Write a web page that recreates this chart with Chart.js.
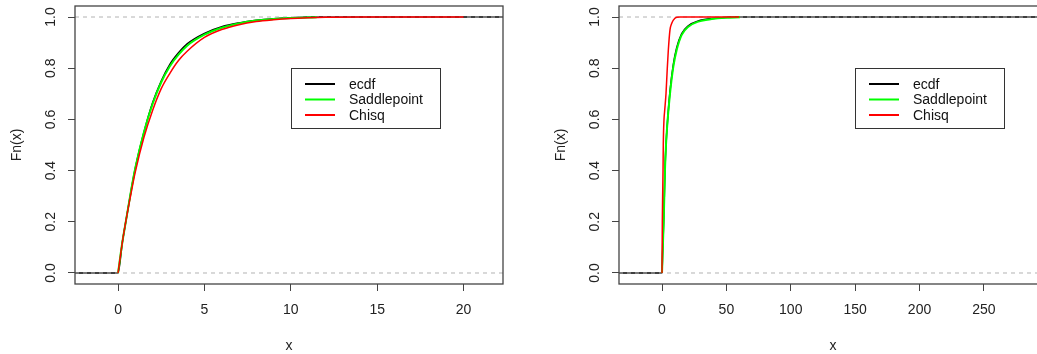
<!DOCTYPE html>
<html>
<head>
<meta charset="utf-8">
<script src="https://cdn.jsdelivr.net/npm/chart.js@4/dist/chart.umd.min.js"></script>
<style>
  html, body { margin: 0; padding: 0; background: #fff; overflow: hidden; width: 1037px; height: 354px; }
  #wrapLeft { position: absolute; left: 0; top: 0; width: 520px; height: 354px; }
  #wrapRight { position: absolute; left: 520px; top: 0; width: 540px; height: 354px; }
</style>
</head>
<body>
<div id="wrapLeft"><canvas id="chartLeft" width="520" height="354"></canvas></div>
<div id="wrapRight"><canvas id="chartRight" width="540" height="354"></canvas></div>
<script>
// Tick labels
const yTicks = [0, 0.2, 0.4, 0.6, 0.8, 1.0];
const leftTicksX = [0, 5, 10, 15, 20];
const rightTicksX = [0, 50, 100, 150, 200, 250];

// Left panel: ecdf, saddlepoint and chisq curves
const leftEcdfX = [-2.49, 0, 0.25, 0.5, 0.75, 1, 1.5, 2, 2.5, 3, 3.5, 4, 5, 6, 7, 8, 9, 10, 11, 22.28];
const leftEcdfY = [0, 0, 0.12, 0.22, 0.32, 0.41, 0.55, 0.665, 0.75, 0.815, 0.86, 0.895, 0.936, 0.962, 0.977, 0.987, 0.993, 0.997, 1, 1];
const leftSaddleX = [0, 0.25, 0.5, 0.75, 1, 1.5, 2, 2.5, 3, 3.5, 4, 5, 6, 7, 8, 9, 10, 11, 11.5];
const leftSaddleY = [0, 0.12, 0.22, 0.32, 0.41, 0.55, 0.66, 0.745, 0.808, 0.853, 0.888, 0.931, 0.958, 0.975, 0.986, 0.992, 0.996, 0.998, 0.999];
const leftChisqX = [0, 0.25, 0.5, 0.75, 1, 1.5, 2, 2.5, 3, 3.5, 4, 5, 6, 7, 8, 9, 10, 11, 12, 14, 20];
const leftChisqY = [0, 0.12, 0.22, 0.31, 0.395, 0.53, 0.635, 0.72, 0.78, 0.83, 0.866, 0.92, 0.951, 0.97, 0.982, 0.989, 0.994, 0.997, 0.999, 1, 1];

// Right panel
const rightEcdfX = [-33.4, 0, 0.5, 1.3, 2.3, 3.1, 4.4, 6.2, 8.8, 11.4, 15.3, 20.4, 28.2, 38.6, 48.9, 55, 299];
const rightEcdfY = [0, 0, 0.08, 0.2, 0.4, 0.5, 0.6, 0.71, 0.815, 0.88, 0.935, 0.966, 0.985, 0.994, 0.998, 1, 1];
const rightSaddleX = [0, 0.5, 1.3, 2.3, 3.1, 4.4, 6.2, 8.8, 11.4, 15.3, 20.4, 28.2, 38.6, 48.9, 60.6];
const rightSaddleY = [0, 0.08, 0.2, 0.4, 0.5, 0.6, 0.7, 0.806, 0.871, 0.93, 0.962, 0.982, 0.992, 0.997, 0.999];
const rightChisqX = [0, 0.25, 0.5, 0.8, 1, 1.55, 2, 3.1, 4, 4.9, 6.2, 7.5, 8.8, 11.4, 14, 60];
const rightChisqY = [0, 0.2, 0.3, 0.4, 0.5, 0.6, 0.63, 0.7, 0.79, 0.87, 0.95, 0.975, 0.988, 0.999, 1, 1];

const legendNames = ['ecdf', 'Saddlepoint', 'Chisq'];
const legendColors = ['#000000', '#00ff00', '#ff0000'];

const fontFamily = "'Liberation Sans', Arial, sans-serif";

function toPoints(xs, ys) {
  return xs.map((x, i) => ({ x: x, y: ys[i] }));
}

// Box round the plot region and the legend inside it
const boxPlugin = {
  id: 'rbox',
  afterDatasetsDraw(chart, args, opts) {
    const { ctx, chartArea: a, scales } = chart;
    ctx.save();
    ctx.strokeStyle = '#444';
    ctx.lineWidth = 1.3;
    ctx.strokeRect(a.left, a.top, a.right - a.left, a.bottom - a.top);

    // legend (top-left corner at data coords)
    const lx = Math.round(scales.x.getPixelForValue(opts.legendX)) + 0.5;
    const ly = Math.round(scales.y.getPixelForValue(opts.legendY)) + 0.5;
    const w = 149;
    const h = 60;
    ctx.fillStyle = '#fff';
    ctx.fillRect(lx, ly, w, h);
    ctx.strokeStyle = '#333';
    ctx.lineWidth = 1;
    ctx.strokeRect(lx, ly, w, h);
    ctx.font = '14px ' + fontFamily;
    ctx.textBaseline = 'middle';
    ctx.textAlign = 'left';
    legendNames.forEach((name, i) => {
      const ry = ly + 15.5 + i * 15.5;
      ctx.strokeStyle = legendColors[i];
      ctx.lineWidth = 2;
      ctx.beginPath();
      ctx.moveTo(lx + 13.5, ry);
      ctx.lineTo(lx + 43.5, ry);
      ctx.stroke();
      ctx.fillStyle = '#111';
      ctx.fillText(name, lx + 57.5, ry + 1);
    });
    ctx.restore();
  }
};

function makePanel(canvasId, cfg) {
  const ctx = document.getElementById(canvasId).getContext('2d');
  return new Chart(ctx, {
    type: 'line',
    data: {
      datasets: [
        {
          label: 'ecdf',
          data: toPoints(cfg.ecdfX, cfg.ecdfY),
          borderColor: '#000000',
          borderWidth: 1.5,
          cubicInterpolationMode: 'monotone',
          order: 4,
        },
        {
          label: 'h0',
          data: [{ x: cfg.xMin, y: 0 }, { x: cfg.xMax, y: 0 }],
          borderColor: '#b3b3b3',
          borderWidth: 1,
          borderDash: [4, 4],
          order: 3,
        },
        {
          label: 'h1',
          data: [{ x: cfg.xMin, y: 1 }, { x: cfg.xMax, y: 1 }],
          borderColor: '#b3b3b3',
          borderWidth: 1,
          borderDash: [4, 4],
          order: 3,
        },
        {
          label: 'Saddlepoint',
          data: toPoints(cfg.saddleX, cfg.saddleY),
          borderColor: '#00ff00',
          borderWidth: 2,
          cubicInterpolationMode: 'monotone',
          order: 2,
        },
        {
          label: 'Chisq',
          data: toPoints(cfg.chisqX, cfg.chisqY),
          borderColor: '#ff0000',
          borderWidth: 1.5,
          cubicInterpolationMode: 'monotone',
          order: 1,
        },
      ],
    },
    options: {
      responsive: false,
      animation: false,
      events: [],
      elements: { point: { radius: 0 }, line: { fill: false } },
      layout: { padding: { left: cfg.padLeft, right: cfg.padRight, top: 6, bottom: 0 } },
      plugins: {
        legend: { display: false },
        tooltip: { enabled: false },
        rbox: { legendX: cfg.legendX, legendY: 0.8 },
      },
      scales: {
        x: {
          type: 'linear',
          min: cfg.xMin,
          max: cfg.xMax,
          afterBuildTicks: (scale) => { scale.ticks = cfg.ticksX.map((v) => ({ value: v })); },
          afterFit: (scale) => {
            scale.height = 70;
            scale.paddingLeft = 0;
            scale.paddingRight = 0;
          },
          grid: { drawOnChartArea: false, drawTicks: true, tickLength: 7, color: '#444' },
          border: { display: false },
          ticks: {
            autoSkip: false,
            maxRotation: 0,
            padding: 11,
            color: '#222',
            font: { family: fontFamily, size: 14 },
            callback: (v) => String(v),
          },
          title: {
            display: true,
            text: 'x',
            color: '#222',
            font: { family: fontFamily, size: 14 },
            padding: { top: 0, bottom: -1 },
          },
        },
        y: {
          type: 'linear',
          min: -0.043,
          max: 1.043,
          afterBuildTicks: (scale) => { scale.ticks = yTicks.map((v) => ({ value: v })); },
          afterFit: (scale) => {
            scale.width = cfg.yWidth;
            scale.paddingTop = 0;
            scale.paddingBottom = 0;
          },
          grid: { drawOnChartArea: false, drawTicks: true, tickLength: 7, color: '#444' },
          border: { display: false },
          ticks: {
            autoSkip: false,
            minRotation: 90,
            maxRotation: 90,
            crossAlign: 'center',
            padding: 7,
            color: '#222',
            font: { family: fontFamily, size: 14 },
            callback: (v) => v.toFixed(1),
          },
          title: {
            display: true,
            text: 'Fn(x)',
            color: '#222',
            font: { family: fontFamily, size: 14 },
            padding: { top: 8.6, bottom: 0 },
          },
        },
      },
    },
    plugins: [boxPlugin],
  });
}

// Left chart
const chartLeft = makePanel('chartLeft', {
  ecdfX: leftEcdfX, ecdfY: leftEcdfY,
  saddleX: leftSaddleX, saddleY: leftSaddleY,
  chisqX: leftChisqX, chisqY: leftChisqY,
  ticksX: leftTicksX,
  xMin: -2.49, xMax: 22.28,
  legendX: 10,
  padLeft: 0, padRight: 17, yWidth: 75,
});

// Right chart (its right edge runs past the window)
const chartRight = makePanel('chartRight', {
  ecdfX: rightEcdfX, ecdfY: rightEcdfY,
  saddleX: rightSaddleX, saddleY: rightSaddleY,
  chisqX: rightChisqX, chisqY: rightChisqY,
  ticksX: rightTicksX,
  xMin: -33.4, xMax: 299,
  legendX: 150,
  padLeft: 24, padRight: 13, yWidth: 75,
});
</script>
</body>
</html>
